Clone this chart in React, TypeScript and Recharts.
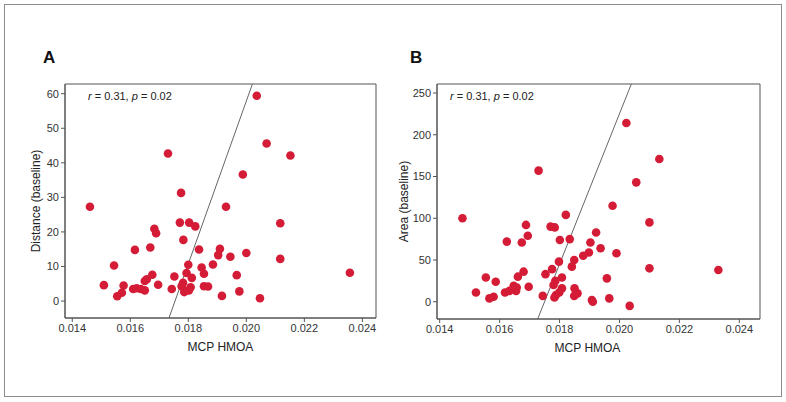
import React from "react"
import {
  ScatterChart,
  Scatter,
  XAxis,
  YAxis,
  ReferenceArea,
  ReferenceLine,
} from "recharts"

// Panel A: MCP HMOA vs distance (baseline)
const hmoaA = [
  0.02036, 0.0207, 0.02152, 0.0173, 0.01988, 0.01775, 0.01461, 0.0193, 0.02117, 0.01683,
  0.01689, 0.01771, 0.01803, 0.01824, 0.01783, 0.01616, 0.01669, 0.01837, 0.01909, 0.01903,
  0.01945, 0.02, 0.02117, 0.01544, 0.018, 0.01885, 0.01846, 0.01854, 0.01794, 0.01812,
  0.01752, 0.01676, 0.01967, 0.02357, 0.01657, 0.0165, 0.01509, 0.01577, 0.01696, 0.01782,
  0.01777, 0.01808, 0.01854, 0.01868, 0.0161, 0.01622, 0.01636, 0.0165, 0.01743, 0.01789,
  0.01802, 0.01786, 0.01976, 0.01571, 0.01555, 0.01916, 0.02047,
]
const distanceA = [
  59.4, 45.6, 42.1, 42.7, 36.6, 31.3, 27.3, 27.3, 22.5, 20.9,
  19.6, 22.7, 22.7, 21.6, 17.7, 14.8, 15.5, 14.9, 15.1, 13.3,
  12.8, 13.9, 12.2, 10.3, 10.5, 10.6, 9.7, 7.9, 8.1, 6.7,
  7.1, 7.6, 7.5, 8.2, 6.3, 5.8, 4.6, 4.5, 4.7, 5.3,
  4.3, 4.0, 4.3, 4.2, 3.5, 3.7, 3.5, 3.1, 3.5, 2.9,
  3.1, 2.6, 2.8, 2.4, 1.4, 1.5, 0.8,
]

// Panel B: MCP HMOA vs area (baseline)
const hmoaB = [
  0.02023, 0.02133, 0.02056, 0.0173, 0.01977, 0.01476, 0.01821, 0.021, 0.01688, 0.0177,
  0.01784, 0.01694, 0.01922, 0.01624, 0.01674, 0.01801, 0.01834, 0.01903, 0.01937, 0.01898,
  0.01879, 0.0199, 0.01849, 0.01798, 0.01841, 0.021, 0.0233, 0.0168, 0.01753, 0.01775,
  0.01661, 0.01554, 0.01958, 0.01808, 0.01587, 0.01786, 0.0178, 0.01697, 0.01647, 0.01657,
  0.01808, 0.0185, 0.01618, 0.01633, 0.01655, 0.01521, 0.0186, 0.01799, 0.01788, 0.01783,
  0.01744, 0.01849, 0.0158, 0.01566, 0.01966, 0.01908, 0.01911, 0.02034,
]
const areaB = [
  214, 171, 143, 157, 115, 100, 104, 95, 92, 90,
  89, 79, 83, 72, 71, 74, 75, 71, 64, 59,
  55, 58, 50, 48, 42, 40, 38, 36, 33, 39,
  30, 29, 28, 29, 24, 25, 20, 18, 19, 17,
  16, 16, 11, 13, 13, 11, 10, 11, 8, 5,
  7, 7, 6, 4, 4, 2, 0, -5,
]

// fitted lines, read as two end points each
const fitA = [
  { x: 0.017334, y: -4.9 },
  { x: 0.02021, y: 62.8 },
]
const fitB = [
  { x: 0.01727, y: -20.7 },
  { x: 0.020396, y: 260.8 },
]

const xTicks = [0.014, 0.016, 0.018, 0.02, 0.022, 0.024]
const yTicksA = [0, 10, 20, 30, 40, 50, 60]
const yTicksB = [0, 50, 100, 150, 200, 250]

const dataA = hmoaA.map((x, i) => ({ x, y: distanceA[i] }))
const dataB = hmoaB.map((x, i) => ({ x, y: areaB[i] }))

const FONT = "'Liberation Sans', Arial, Helvetica, sans-serif"
const RED = "#d41c36"
const tickStyle = { fontSize: 11, fill: "#333", fontFamily: FONT }

const Dot = (p: any) => <circle cx={p.cx} cy={p.cy} r={4.3} fill={RED} />

interface PanelProps {
  data: { x: number; y: number }[]
  fit: { x: number; y: number }[]
  xDomain: [number, number]
  yDomain: [number, number]
  yTicks: number[]
  yLabel: string
  margin: { top: number; right: number; left: number; bottom: number }
  yAxisWidth: number
  yLabelOffset: number
  xLabelDx: number
}

function Panel({ data, fit, xDomain, yDomain, yTicks, yLabel, margin, yAxisWidth, yLabelOffset, xLabelDx }: PanelProps) {
  return (
    <ScatterChart width={393} height={402} margin={margin}>
      <XAxis
        type="number"
        dataKey="x"
        domain={xDomain}
        ticks={xTicks}
        allowDataOverflow
        tickFormatter={(v: number) => v.toFixed(3)}
        tick={tickStyle}
        tickSize={4}
        tickLine={{ stroke: "#555" }}
        axisLine={{ stroke: "#555" }}
        height={50}
        label={{
          value: "MCP HMOA",
          position: "insideTop",
          offset: 24,
          dx: xLabelDx,
          style: { fontSize: 12, fill: "#222", fontFamily: FONT },
        }}
      />
      <YAxis
        type="number"
        dataKey="y"
        domain={yDomain}
        ticks={yTicks}
        allowDataOverflow
        tick={tickStyle}
        tickSize={4}
        tickLine={{ stroke: "#555" }}
        axisLine={{ stroke: "#555" }}
        width={yAxisWidth}
        label={{
          value: yLabel,
          angle: -90,
          position: "insideLeft",
          offset: yLabelOffset,
          style: { textAnchor: "middle", fontSize: 12, fill: "#222", fontFamily: FONT },
        }}
      />
      <ReferenceArea
        x1={xDomain[0]}
        x2={xDomain[1]}
        y1={yDomain[0]}
        y2={yDomain[1]}
        fill="none"
        stroke="#555"
        strokeWidth={1}
        ifOverflow="visible"
      />
      <ReferenceLine segment={fit} stroke="#666" strokeWidth={1} ifOverflow="hidden" />
      <Scatter data={data} shape={Dot} isAnimationActive={false} />
    </ScatterChart>
  )
}

const note = (
  <>
    <i>r</i> = 0.31, <i>p</i> = 0.02
  </>
)

export default function App() {
  return (
    <div
      style={{
        position: "absolute",
        left: 0,
        top: 0,
        width: 786,
        height: 402,
        background: "#fff",
        fontFamily: FONT,
      }}
    >
      <div
        style={{
          position: "absolute",
          left: 4,
          top: 4,
          width: 776,
          height: 391,
          border: "1px solid #8c8c8c",
        }}
      />
      <div style={{ position: "absolute", left: 0, top: 0 }}>
        <Panel
          data={dataA}
          fit={fitA}
          xDomain={[0.01375, 0.02447]}
          yDomain={[-4.9, 62.8]}
          yTicks={yTicksA}
          yLabel="Distance (baseline)"
          margin={{ top: 84, right: 17, left: 20, bottom: 34 }}
          yAxisWidth={45}
          yLabelOffset={16}
          xLabelDx={0}
        />
      </div>
      <div style={{ position: "absolute", left: 393, top: 0 }}>
        <Panel
          data={dataB}
          fit={fitB}
          xDomain={[0.01391, 0.02469]}
          yDomain={[-20.7, 260.8]}
          yTicks={yTicksB}
          yLabel="Area (baseline)"
          margin={{ top: 84, right: 26, left: 0, bottom: 33 }}
          yAxisWidth={44}
          yLabelOffset={11}
          xLabelDx={-11}
        />
      </div>
      <div style={{ position: "absolute", left: 43, top: 49, fontSize: 17, lineHeight: "17px", fontWeight: 700, color: "#111" }}>
        A
      </div>
      <div style={{ position: "absolute", left: 410, top: 49, fontSize: 17, lineHeight: "17px", fontWeight: 700, color: "#111" }}>
        B
      </div>
      <div style={{ position: "absolute", left: 88, top: 91, fontSize: 11, lineHeight: "11px", color: "#222", whiteSpace: "nowrap" }}>
        {note}
      </div>
      <div style={{ position: "absolute", left: 450, top: 91, fontSize: 11, lineHeight: "11px", color: "#222", whiteSpace: "nowrap" }}>
        {note}
      </div>
    </div>
  )
}
